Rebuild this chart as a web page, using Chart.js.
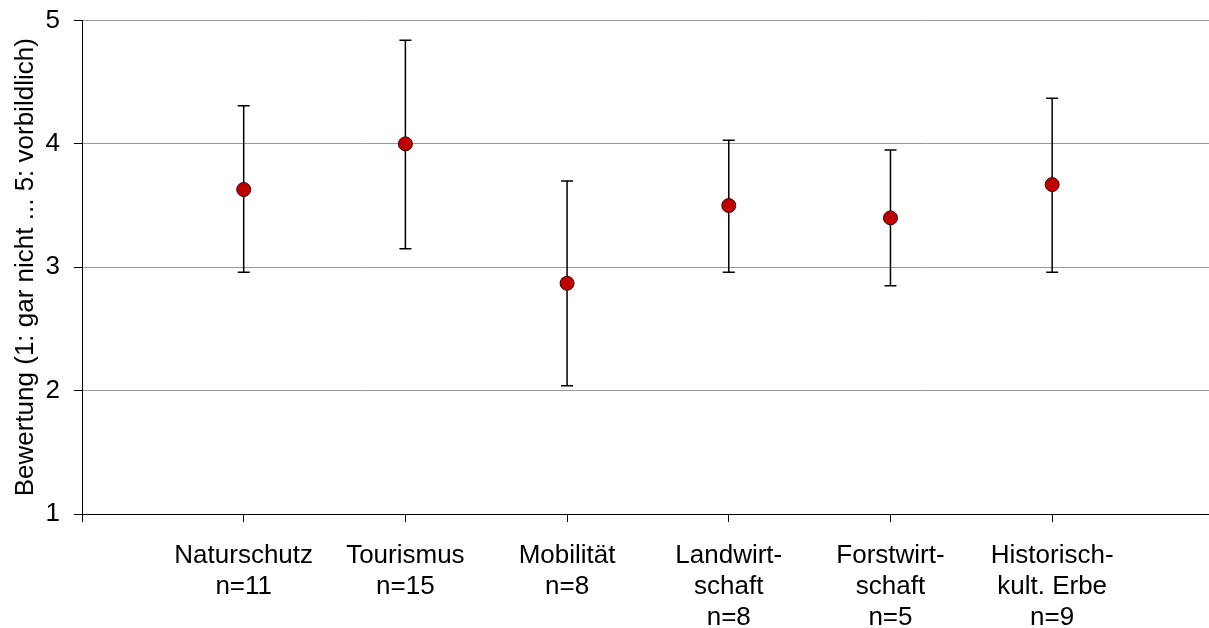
<!DOCTYPE html>
<html>
<head>
<meta charset="utf-8">
<script src="https://cdn.jsdelivr.net/npm/chart.js@4.4.0/dist/chart.umd.min.js"></script>
<style>
  html, body { margin: 0; padding: 0; background: #fff; overflow: hidden; }
  #wrap { width: 1209px; height: 628px; }
</style>
</head>
<body>
<div id="wrap"><canvas id="chart" width="1209" height="628"></canvas></div>
<script>
// Categories (x labels, multi-line)
const categories = [
    ['Naturschutz', 'n=11'],
    ['Tourismus', 'n=15'],
    ['Mobilität', 'n=8'],
    ['Landwirt-', 'schaft', 'n=8'],
    ['Forstwirt-', 'schaft', 'n=5'],
    ['Historisch-', 'kult. Erbe', 'n=9']
];

// Mean ratings and error bar limits
const means = [3.63, 4.00, 2.87, 3.50, 3.40, 3.67];
const upper = [4.31, 4.84, 3.70, 4.03, 3.95, 4.37];
const lower = [2.96, 3.15, 2.04, 2.96, 2.85, 2.96];

const yTicks = [1, 2, 3, 4, 5];
const yTitle = 'Bewertung (1: gar nicht ... 5: vorbildlich)';

const fontFamily = "Arial, 'Liberation Sans', sans-serif";

// draw the error bars under the points
const errorBars = {
    id: 'errorBars',
    beforeDatasetsDraw(chart) {
        const ctx = chart.ctx;
        const xs = chart.scales.x;
        const ys = chart.scales.y;
        ctx.save();
        ctx.strokeStyle = '#000';
        ctx.lineWidth = 1.5;
        means.forEach((m, i) => {
            const x = xs.getPixelForValue(i + 1);
            const yTop = ys.getPixelForValue(upper[i]);
            const yBot = ys.getPixelForValue(lower[i]);
            ctx.beginPath();
            ctx.moveTo(x, yTop);
            ctx.lineTo(x, yBot);
            ctx.moveTo(x - 6, yTop);
            ctx.lineTo(x + 6, yTop);
            ctx.moveTo(x - 6, yBot);
            ctx.lineTo(x + 6, yBot);
            ctx.stroke();
        });
        ctx.restore();
    }
};

const ctx = document.getElementById('chart').getContext('2d');

new Chart(ctx, {
    type: 'scatter',
    data: {
        datasets: [{
            data: means.map((m, i) => ({ x: i + 1, y: m })),
            pointRadius: 7,
            pointHoverRadius: 7,
            pointBackgroundColor: '#C00000',
            pointBorderColor: '#3a0000',
            pointBorderWidth: 1,
            showLine: false,
            clip: false
        }]
    },
    options: {
        responsive: false,
        animation: false,
        events: [],
        layout: { autoPadding: false, padding: { top: 20, right: 0, bottom: 0, left: 0 } },
        plugins: {
            legend: { display: false },
            tooltip: { enabled: false }
        },
        scales: {
            x: {
                type: 'linear',
                min: 0,
                max: 6.97,
                afterBuildTicks(scale) {
                    scale.ticks = [0, 1, 2, 3, 4, 5, 6].map(v => ({ value: v }));
                },
                afterFit(scale) {
                    scale.height = 114;
                },
                ticks: {
                    autoSkip: false,
                    maxRotation: 0,
                    padding: 18,
                    color: '#000',
                    font: { family: fontFamily, size: 26, lineHeight: 1.2 },
                    callback: v => (v >= 1 && v <= categories.length) ? categories[v - 1] : ''
                },
                grid: {
                    drawOnChartArea: false,
                    drawTicks: true,
                    tickLength: 8,
                    tickColor: '#000'
                },
                border: { display: true, color: '#000', width: 1 }
            },
            y: {
                min: 1,
                max: 5,
                afterBuildTicks(scale) {
                    scale.ticks = yTicks.map(v => ({ value: v }));
                },
                afterFit(scale) {
                    scale.width = 82;
                },
                ticks: {
                    padding: 14,
                    color: '#000',
                    font: { family: fontFamily, size: 26, lineHeight: 0.5 }
                },
                grid: {
                    color: '#999',
                    lineWidth: 1,
                    drawTicks: true,
                    tickLength: 8,
                    tickColor: '#000'
                },
                border: { display: true, color: '#000', width: 1 },
                title: {
                    display: true,
                    text: yTitle,
                    color: '#000',
                    font: { family: fontFamily, size: 26 },
                    padding: { top: 10, bottom: 0 }
                }
            }
        }
    },
    plugins: [errorBars]
});
</script>
</body>
</html>
